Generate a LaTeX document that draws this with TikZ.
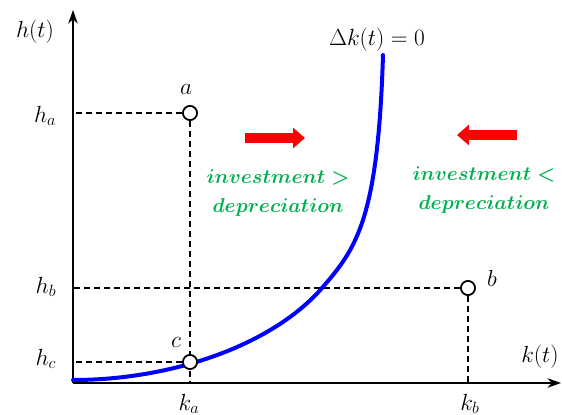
\RequirePackage{fix-cm}
\documentclass[tikz,border=0pt]{standalone}
\usepackage{amsmath,bm}
\usetikzlibrary{arrows.meta}
\definecolor{curveblue}{HTML}{0000FF}
\definecolor{pushred}{HTML}{FF0000}
\definecolor{notegreen}{HTML}{00B050}

\begin{document}
\begin{tikzpicture}[x=0.75pt,y=-0.75pt,
    axis/.style={line width=1.5pt},
    guide/.style={line width=0.9pt,dash pattern=on 4.5pt off 3pt},
    pt/.style={circle,draw,line width=1.2pt,fill=white,minimum size=10.5pt,inner sep=0pt},
    lbl/.style={font=\fontsize{17.5}{20}\selectfont},
    note/.style={font=\fontsize{15}{22}\selectfont\boldmath,text=notegreen,align=center},
    push/.style={pushred,line width=7.5pt,-{Triangle[length=9pt,width=15pt]}}]
    % page size of the reference
    \useasboundingbox (0,0) rectangle (562,415);

    % origin and axis ends
    \coordinate (O) at (73,383);
    \coordinate (ytop) at (73,10);
    \coordinate (xend) at (561,383);

    % states a, b, c
    \node[pt] (a) at (190,113) {};
    \node[pt] (b) at (468,288) {};
    \node[pt] (c) at (190,362) {};

    % dashed guides to the axes
    \draw[guide] (a) -- (a -| O);
    \draw[guide] (a) -- (a |- O);
    \draw[guide] (b) -- (b -| O);
    \draw[guide] (b) -- (b |- O);
    \draw[guide] (c) -- (c -| O);

    % axes
    \draw[axis,-{Stealth[length=10pt,width=7pt,inset=3pt]}] (O) -- (ytop);
    \draw[axis,-{Stealth[length=10pt,width=7pt,inset=3pt]}] (O) -- (xend);

    % Delta k(t) = 0 locus
    \draw[curveblue,line width=3pt,line cap=round] (73,380)
      .. controls (173,380) and (272.8,344.6) .. (322,288)
      .. controls (356.1,248.7) and (378,220) .. (383,55);

    % circles on top of the lines
    \node[pt] at (a) {};
    \node[pt] at (b) {};
    \node[pt] at (c) {};

    % axis and point labels
    \node[lbl] (hlab) at (35,32) {$h(t)$};
    \node[lbl] (klab) at (540,357) {$k(t)$};
    \node[lbl] (zerolab) at (377,40) {$\Delta k(t) = 0$};
    \node[lbl] (alab) at (186,89) {$a$};
    \node[lbl] (blab) at (492,278) {$b$};
    \node[lbl] (clab) at (176,342) {$c$};
    \node[lbl,anchor=east] (halab) at (61,116) {$h_a$};
    \node[lbl,anchor=east] (hblab) at (61,287) {$h_b$};
    \node[lbl,anchor=east] (hclab) at (61,359) {$h_c$};
    \node[lbl] (kalab) at (189,404) {$k_a$};
    \node[lbl] (kblab) at (470,404) {$k_b$};

    % direction of motion
    \draw[push] (245,138) -- (305,138);
    \draw[push] (517,135) -- (457,135);

    % regions
    \node[note] (leftnote) at (278,193) {$investment >$\\$depreciation$};
    \node[note] (rightnote) at (484,190) {$investment <$\\$depreciation$};
\end{tikzpicture}
\end{document}
